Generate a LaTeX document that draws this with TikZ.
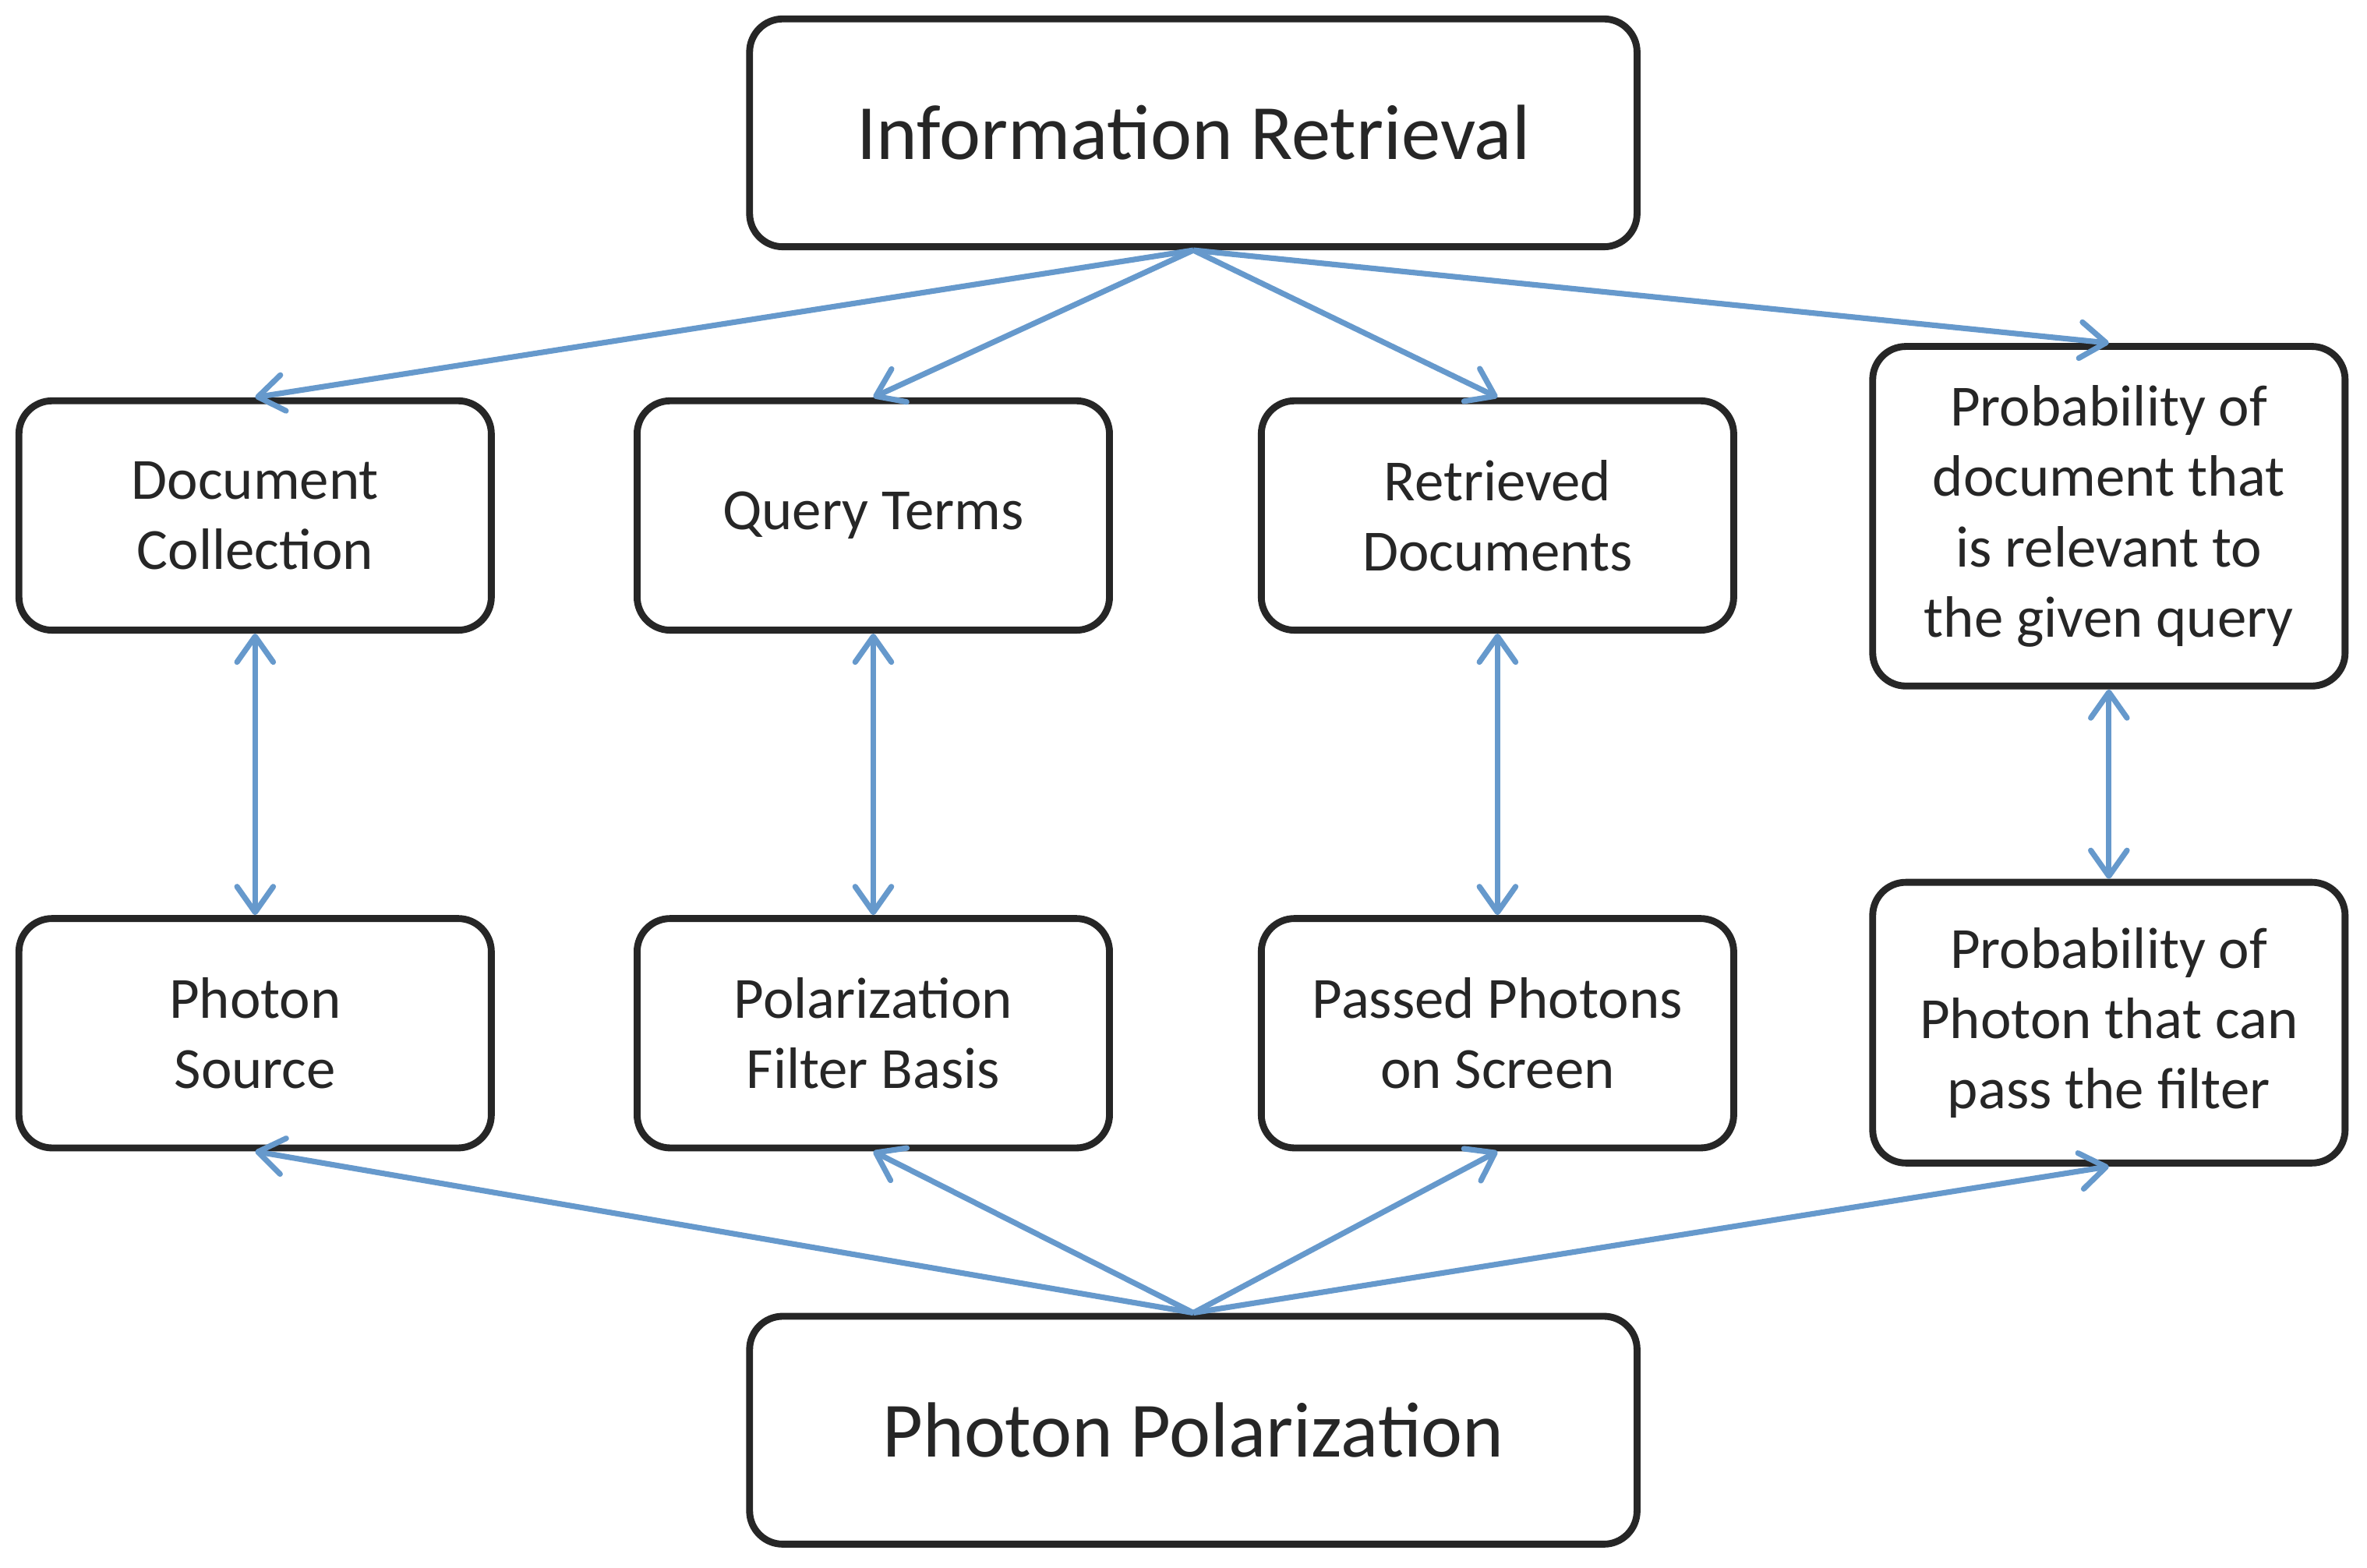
\documentclass[tikz,border=0pt]{standalone}
\usepackage{fontspec}
\setmainfont{Carlito}
\usetikzlibrary{arrows.meta}
\definecolor{arrowblue}{RGB}{102,153,204}
\definecolor{boxline}{RGB}{38,38,38}
\tikzset{
  box/.style={draw=boxline, line width=2.6pt, rounded corners=0.44cm, align=center,
    text=boxline, inner sep=0pt, font=\fontsize{22}{26.5}\selectfont,
    minimum width=6.26cm, minimum height=3.04cm},
  bigbox/.style={box, minimum width=11.76cm, minimum height=3.02cm,
    font=\fontsize{29.5}{34}\selectfont},
  tipb/.tip={Straight Barb[length=3.4mm,width=4.8mm,round]},
  conn/.style={draw=arrowblue, line width=2.1pt, -tipb},
  dconn/.style={draw=arrowblue, line width=2.1pt, tipb-tipb}
}
\begin{document}
\begin{tikzpicture}[x=0.02cm,y=-0.02cm]
\useasboundingbox[fill=white] (0,0) rectangle (1568,1038.3);
\node[bigbox] (ir) at (790.5,88) {Information Retrieval};
\node[box] (dc) at (169,341.5) {Document\\Collection};
\node[box] (qt) at (578.5,341.5) {Query Terms};
\node[box] (rd) at (992,341.5) {Retrieved\\Documents};
\node[box, minimum height=4.5cm] (pd) at (1397,342) {Probability of\\document that\\is relevant to\\the given query};
\node[box] (ps) at (169,684.5) {Photon\\Source};
\node[box] (pf) at (578.5,684.5) {Polarization\\Filter Basis};
\node[box] (pp) at (992,684.5) {Passed Photons\\on Screen};
\node[box, minimum height=3.72cm] (pph) at (1397,677.5) {Probability of\\Photon that can\\pass the filter};
\node[bigbox] (php) at (790.5,947.5) {Photon Polarization};
\draw[conn] (ir.south) -- (dc.north);
\draw[conn] (ir.south) -- (qt.north);
\draw[conn] (ir.south) -- (rd.north);
\draw[conn] (ir.south) -- (pd.north);
\draw[conn] (php.north) -- (ps.south);
\draw[conn] (php.north) -- (pf.south);
\draw[conn] (php.north) -- (pp.south);
\draw[conn] (php.north) -- (pph.south);
\draw[dconn] (dc.south) -- (ps.north);
\draw[dconn] (qt.south) -- (pf.north);
\draw[dconn] (rd.south) -- (pp.north);
\draw[dconn] (pd.south) -- (pph.north);
\end{tikzpicture}
\end{document}
